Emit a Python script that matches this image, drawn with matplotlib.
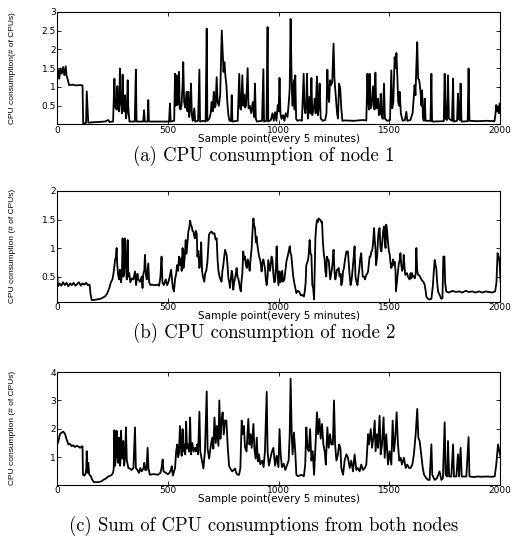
import numpy as np
import matplotlib
matplotlib.use("Agg")
import matplotlib.pyplot as plt
from matplotlib.ticker import FormatStrFormatter

# node 1 cpu usage, sample index / # of CPUs
x_node1 = [0, 4, 9, 14, 20, 26, 32, 38, 42, 48, 53, 70, 85, 100, 114, 117, 130, 133, 137, 140,
           160, 190, 215, 222, 230, 236, 252, 258, 262, 265, 268, 271, 275, 279, 283, 286, 288, 292,
           295, 299, 303, 306, 310, 314, 318, 321, 326, 350, 355, 358, 388, 392, 395, 408, 411, 414,
           505, 509, 512, 528, 532, 535, 539, 543, 546, 550, 553, 557, 561, 566, 569, 573, 578, 584,
           588, 592, 596, 600, 604, 608, 612, 619, 623, 636, 642, 645, 660, 670, 675, 678, 687, 693,
           697, 702, 707, 711, 715, 720, 724, 730, 736, 743, 747, 751, 755, 759, 764, 768, 773, 778,
           785, 788, 791, 815, 822, 826, 830, 836, 840, 845, 848, 853, 860, 864, 870, 876, 883, 889,
           893, 897, 902, 925, 931, 934, 945, 950, 953, 965, 972, 978, 984, 990, 996, 1000, 1004, 1008,
           1013, 1020, 1026, 1032, 1040, 1046, 1050, 1054, 1058, 1062, 1065, 1069, 1072, 1075, 1079,
           1085, 1095, 1105, 1113, 1117, 1121, 1125, 1128, 1132, 1136, 1140, 1144, 1148, 1152, 1156,
           1160, 1163, 1167, 1173, 1177, 1181, 1185, 1190, 1200, 1210, 1216, 1220, 1224, 1228, 1232,
           1237, 1242, 1248, 1252, 1256, 1260, 1264, 1268, 1273, 1278, 1283, 1288, 1300, 1340, 1380,
           1396, 1401, 1405, 1408, 1411, 1415, 1420, 1426, 1430, 1433, 1437, 1441, 1445, 1449, 1453,
           1458, 1461, 1465, 1470, 1476, 1480, 1490, 1503, 1509, 1513, 1518, 1524, 1528, 1532, 1536,
           1540, 1544, 1547, 1552, 1560, 1570, 1577, 1581, 1595, 1605, 1609, 1614, 1618, 1622, 1626,
           1630, 1634, 1637, 1641, 1645, 1648, 1652, 1656, 1660, 1664, 1686, 1690, 1693, 1746, 1750,
           1754, 1760, 1765, 1769, 1783, 1788, 1791, 1806, 1810, 1814, 1818, 1822, 1826, 1854, 1858,
           1862, 1900, 1940, 1975, 1980, 1983, 1987, 1991, 1995, 1998, 2003, 2010]
y_node1 = [1.20, 1.45, 1.22, 1.49, 1.35, 1.53, 1.31, 1.55, 1.30, 1.18, 1.05, 1.06, 1.04, 1.05, 1.04,
           0.02, 0.05, 0.88, 0.40, 0.05, 0.06, 0.07, 0.08, 0.10, 0.12, 0.07, 0.08, 1.22, 0.45, 0.52,
           0.40, 1.02, 0.43, 0.35, 1.49, 0.55, 0.60, 0.30, 1.33, 0.43, 0.35, 0.78, 0.16, 0.30, 1.18,
           0.43, 0.08, 0.08, 1.46, 0.08, 0.08, 0.38, 0.08, 0.08, 0.65, 0.08, 0.08, 0.56, 0.08, 0.10,
           1.35, 0.50, 1.31, 0.52, 0.60, 1.40, 0.43, 0.40, 0.50, 1.05, 1.66, 0.60, 0.45, 0.87, 0.35,
           0.87, 0.20, 0.43, 1.09, 0.25, 0.10, 0.43, 0.08, 0.10, 1.46, 0.08, 0.10, 0.08, 2.55, 0.10,
           0.16, 0.30, 0.60, 0.35, 0.87, 0.45, 0.50, 1.26, 0.60, 0.50, 0.80, 2.50, 1.93, 1.40, 1.66,
           1.31, 1.05, 0.60, 0.25, 0.10, 0.10, 0.78, 0.08, 0.10, 1.35, 0.43, 0.40, 1.31, 0.50, 0.80,
           0.45, 0.50, 1.50, 0.43, 0.50, 0.30, 0.60, 0.20, 1.09, 0.15, 0.08, 0.10, 1.47, 0.08, 0.10,
           2.59, 0.08, 0.12, 0.30, 0.10, 0.33, 0.10, 0.52, 0.35, 1.24, 0.30, 0.15, 0.25, 0.10, 0.30,
           0.20, 0.60, 0.96, 2.81, 1.40, 0.50, 0.78, 1.18, 0.40, 1.31, 0.15, 0.10, 0.12, 0.10, 1.35,
           0.43, 0.30, 0.60, 1.35, 0.16, 0.40, 0.74, 0.30, 1.24, 0.25, 0.40, 0.50, 0.69, 0.30, 1.28,
           0.25, 0.45, 1.09, 0.16, 0.10, 0.12, 0.30, 1.46, 0.78, 0.60, 1.18, 1.05, 1.13, 2.15, 1.22,
           0.90, 0.61, 0.30, 0.16, 1.09, 0.96, 0.43, 0.10, 0.11, 0.10, 0.12, 0.11, 1.35, 0.61, 0.40,
           1.35, 0.43, 0.50, 1.02, 0.61, 0.40, 1.38, 0.43, 0.45, 0.69, 0.25, 0.30, 0.82, 0.25, 0.15,
           1.09, 0.16, 0.10, 0.12, 1.44, 0.43, 0.60, 1.79, 1.50, 1.90, 1.31, 0.60, 0.50, 0.87, 0.30,
           0.10, 0.12, 0.34, 0.10, 0.12, 0.30, 0.60, 1.05, 0.78, 1.55, 2.19, 1.22, 1.20, 1.09, 0.87,
           0.50, 0.91, 0.16, 0.10, 0.69, 0.10, 0.10, 1.35, 0.08, 0.09, 1.35, 0.16, 0.12, 1.31, 0.16,
           0.10, 1.22, 0.08, 0.10, 0.82, 0.16, 0.12, 1.09, 0.08, 0.09, 1.49, 0.10, 0.09, 0.10, 0.09,
           0.30, 0.52, 0.35, 0.48, 0.30, 0.56, 0.52, 0.55]

# node 2 cpu usage
x_node2 = [0, 3, 10, 18, 26, 34, 42, 50, 58, 66, 74, 82, 90, 98, 106, 114, 122, 130, 138, 146, 150,
           155, 165, 180, 195, 205, 215, 225, 235, 243, 249, 253, 257, 261, 265, 268, 271, 275, 279,
           283, 288, 292, 295, 299, 302, 306, 310, 314, 318, 321, 325, 330, 337, 344, 351, 356, 362,
           366, 374, 381, 385, 389, 393, 396, 400, 404, 411, 415, 421, 428, 436, 444, 452, 460, 466,
           471, 475, 481, 490, 496, 502, 508, 514, 518, 522, 527, 532, 537, 541, 546, 550, 555, 559,
           562, 566, 570, 575, 580, 584, 588, 592, 596, 600, 604, 607, 611, 615, 619, 622, 626, 630,
           633, 637, 642, 646, 650, 654, 658, 664, 668, 673, 678, 682, 685, 690, 697, 703, 710, 715,
           720, 724, 728, 733, 737, 742, 746, 750, 754, 758, 762, 765, 769, 773, 777, 780, 784, 788,
           791, 795, 799, 803, 807, 810, 814, 818, 822, 825, 829, 833, 836, 840, 844, 848, 852, 856,
           860, 864, 869, 873, 878, 882, 886, 889, 893, 897, 900, 904, 908, 912, 916, 920, 923, 927,
           931, 938, 942, 946, 950, 953, 957, 961, 965, 968, 972, 976, 980, 984, 988, 991, 995, 999,
           1004, 1008, 1012, 1016, 1020, 1026, 1030, 1035, 1042, 1046, 1050, 1054, 1057, 1061, 1065,
           1070, 1075, 1080, 1086, 1091, 1095, 1100, 1106, 1114, 1118, 1122, 1125, 1129, 1133, 1136,
           1140, 1144, 1148, 1152, 1156, 1160, 1163, 1166, 1170, 1173, 1177, 1181, 1185, 1190, 1193,
           1196, 1200, 1204, 1208, 1211, 1215, 1218, 1222, 1226, 1230, 1233, 1237, 1240, 1244, 1248,
           1252, 1256, 1259, 1263, 1268, 1271, 1275, 1280, 1283, 1287, 1291, 1295, 1300, 1306, 1313,
           1317, 1320, 1325, 1330, 1334, 1338, 1343, 1347, 1352, 1356, 1360, 1364, 1368, 1373, 1377,
           1380, 1386, 1390, 1396, 1400, 1404, 1408, 1411, 1415, 1419, 1422, 1426, 1431, 1434, 1437,
           1440, 1445, 1449, 1452, 1456, 1460, 1464, 1468, 1472, 1476, 1480, 1483, 1486, 1490, 1494,
           1498, 1502, 1505, 1509, 1513, 1517, 1520, 1524, 1528, 1530, 1534, 1538, 1542, 1547, 1550,
           1554, 1558, 1562, 1565, 1569, 1572, 1577, 1580, 1584, 1588, 1592, 1596, 1599, 1603, 1606,
           1611, 1615, 1619, 1622, 1626, 1630, 1636, 1642, 1648, 1654, 1660, 1664, 1667, 1674, 1682,
           1690, 1697, 1701, 1705, 1709, 1712, 1716, 1720, 1727, 1735, 1740, 1744, 1749, 1752, 1757,
           1770, 1785, 1800, 1815, 1830, 1845, 1860, 1875, 1890, 1905, 1920, 1935, 1950, 1965, 1978,
           1984, 1989, 1994, 1998, 2003, 2009, 2014]
y_node2 = [0.50, 0.33, 0.38, 0.34, 0.40, 0.35, 0.39, 0.33, 0.38, 0.35, 0.39, 0.34, 0.37, 0.40, 0.34,
           0.38, 0.36, 0.39, 0.35, 0.36, 0.20, 0.09, 0.09, 0.10, 0.11, 0.13, 0.15, 0.20, 0.30, 0.41,
           0.45, 0.53, 0.65, 0.79, 0.85, 1.00, 0.70, 0.53, 0.45, 0.62, 0.40, 0.55, 1.17, 0.50, 0.60,
           1.17, 0.70, 0.45, 1.14, 0.50, 0.56, 0.40, 0.47, 0.45, 0.59, 0.35, 0.55, 0.45, 0.41, 0.50,
           0.30, 0.56, 0.60, 0.88, 0.55, 0.45, 0.73, 0.40, 0.35, 0.36, 0.35, 0.35, 0.36, 0.34, 0.50,
           0.85, 0.40, 0.35, 0.45, 0.35, 0.40, 0.50, 0.62, 0.45, 0.30, 0.24, 0.45, 0.55, 0.70, 0.60,
           0.85, 0.70, 0.82, 0.60, 1.00, 0.65, 0.80, 1.14, 0.90, 1.10, 1.29, 1.35, 1.48, 1.40, 1.38,
           1.30, 1.29, 1.20, 1.17, 1.30, 1.25, 0.85, 0.95, 0.65, 0.75, 1.10, 0.60, 0.50, 0.41, 0.55,
           0.60, 0.75, 1.00, 1.23, 1.27, 1.29, 1.25, 1.26, 1.15, 1.17, 0.80, 0.60, 0.50, 0.45, 0.41,
           0.60, 0.70, 0.85, 0.97, 0.92, 0.88, 0.70, 0.47, 0.40, 0.30, 0.45, 0.60, 0.55, 0.27, 0.40,
           0.47, 0.55, 0.65, 0.50, 0.46, 0.38, 0.30, 0.24, 0.45, 0.55, 0.94, 0.80, 0.85, 0.70, 0.65,
           0.80, 0.75, 0.60, 0.80, 1.00, 1.30, 1.52, 1.40, 1.35, 1.10, 1.20, 1.05, 0.94, 0.85, 0.80,
           0.70, 0.59, 0.75, 0.80, 0.65, 0.45, 0.35, 0.50, 0.79, 0.70, 0.60, 0.75, 0.85, 0.79, 0.55,
           0.40, 0.41, 0.70, 1.03, 0.60, 0.35, 0.59, 0.40, 0.47, 0.60, 0.41, 0.45, 0.59, 0.76, 0.88,
           0.95, 1.03, 0.90, 0.88, 0.70, 0.53, 0.40, 0.30, 0.21, 0.25, 0.24, 0.22, 0.17, 0.18, 0.15,
           0.24, 0.40, 0.70, 0.75, 0.79, 0.90, 1.14, 0.90, 0.88, 0.35, 0.30, 0.10, 0.60, 1.17, 1.40,
           1.49, 1.45, 1.52, 1.50, 1.49, 1.45, 1.46, 1.10, 0.90, 0.79, 0.60, 0.50, 0.85, 0.80, 0.79,
           0.60, 0.45, 0.55, 0.62, 0.75, 0.97, 0.60, 0.45, 0.50, 0.62, 0.62, 0.65, 0.50, 0.55, 0.35,
           0.40, 0.59, 0.65, 0.80, 0.94, 0.94, 0.70, 0.55, 0.35, 0.45, 0.62, 0.80, 1.03, 0.50, 0.40,
           0.35, 0.50, 0.62, 0.80, 0.91, 0.65, 0.50, 0.50, 0.45, 0.53, 0.55, 0.59, 0.75, 0.85, 0.85,
           0.94, 0.95, 1.06, 1.35, 1.15, 1.00, 0.70, 0.85, 1.17, 1.30, 1.35, 1.00, 0.94, 1.10, 1.29,
           1.38, 1.10, 1.00, 1.41, 1.30, 1.10, 0.95, 0.88, 0.75, 0.65, 0.70, 0.80, 0.70, 0.76, 0.60,
           0.24, 0.40, 0.55, 0.70, 0.80, 0.91, 0.70, 0.60, 0.65, 0.88, 0.65, 0.53, 0.55, 0.56, 0.50,
           0.47, 0.45, 0.56, 0.47, 0.56, 0.50, 0.50, 0.47, 0.55, 1.00, 0.60, 0.53, 0.52, 0.47, 0.43,
           0.41, 0.35, 0.25, 0.15, 0.11, 0.10, 0.11, 0.35, 0.60, 0.79, 0.70, 0.65, 0.40, 0.24, 0.18,
           0.11, 0.12, 0.85, 0.85, 0.40, 0.24, 0.22, 0.25, 0.23, 0.24, 0.22, 0.25, 0.23, 0.24, 0.22,
           0.24, 0.22, 0.24, 0.23, 0.22, 0.24, 0.40, 0.91, 0.85, 0.75, 0.40, 0.21, 0.18]

# sum of both nodes
x_total = [0, 5, 12, 20, 27, 35, 42, 50, 57, 65, 72, 80, 88, 95, 103, 110, 114, 116, 122, 127, 131,
           133, 136, 140, 144, 152, 158, 166, 185, 200, 208, 220, 230, 240, 246, 252, 255, 258, 261,
           265, 268, 271, 275, 279, 283, 285, 288, 292, 296, 298, 302, 306, 310, 314, 321, 328, 336,
           344, 351, 355, 362, 369, 375, 381, 389, 393, 397, 403, 408, 412, 418, 430, 441, 455, 466,
           471, 476, 480, 490, 500, 507, 513, 517, 522, 532, 537, 542, 546, 550, 554, 559, 562, 566,
           570, 575, 578, 582, 586, 592, 596, 600, 604, 610, 616, 622, 627, 632, 636, 642, 646, 652,
           660, 667, 675, 679, 686, 694, 700, 705, 710, 716, 721, 728, 732, 737, 742, 747, 752, 758,
           764, 770, 776, 783, 790, 797, 803, 808, 815, 821, 827, 833, 838, 843, 848, 855, 863, 868,
           873, 878, 886, 890, 896, 901, 906, 911, 917, 926, 932, 938, 946, 950, 956, 961, 968, 976,
           984, 991, 999, 1004, 1009, 1015, 1023, 1030, 1038, 1045, 1050, 1054, 1059, 1063, 1069,
           1075, 1080, 1087, 1102, 1114, 1120, 1125, 1130, 1136, 1142, 1148, 1154, 1160, 1166, 1173,
           1178, 1184, 1190, 1196, 1202, 1208, 1213, 1220, 1226, 1232, 1238, 1245, 1250, 1255, 1261,
           1268, 1273, 1279, 1283, 1291, 1298, 1306, 1313, 1321, 1328, 1336, 1343, 1351, 1358, 1366,
           1373, 1381, 1389, 1396, 1404, 1408, 1416, 1422, 1428, 1434, 1438, 1444, 1449, 1456, 1461,
           1467, 1474, 1479, 1486, 1494, 1501, 1509, 1515, 1521, 1527, 1533, 1539, 1545, 1551, 1557,
           1566, 1574, 1581, 1589, 1596, 1604, 1611, 1619, 1626, 1631, 1637, 1644, 1651, 1657, 1667,
           1675, 1682, 1690, 1694, 1705, 1715, 1727, 1735, 1742, 1750, 1754, 1761, 1765, 1770, 1780,
           1788, 1792, 1803, 1810, 1815, 1822, 1827, 1848, 1858, 1862, 1880, 1900, 1920, 1940, 1960,
           1976, 1983, 1991, 1997, 2003, 2010]
y_total = [1.45, 1.57, 1.81, 1.87, 1.90, 1.82, 1.63, 1.45, 1.47, 1.39, 1.42, 1.36, 1.40, 1.38, 1.33,
           1.38, 1.38, 0.38, 0.35, 0.40, 0.60, 1.21, 0.45, 0.80, 0.40, 0.32, 0.20, 0.12, 0.12, 0.15,
           0.20, 0.25, 0.32, 0.35, 0.38, 0.45, 0.60, 1.95, 0.70, 1.00, 1.93, 1.20, 0.80, 1.69, 0.70,
           0.80, 1.93, 0.95, 1.20, 1.57, 0.70, 1.00, 2.05, 0.90, 0.62, 0.60, 0.55, 0.62, 2.05, 0.62,
           0.55, 0.45, 0.62, 0.50, 0.60, 0.80, 0.55, 0.55, 1.33, 0.60, 0.38, 0.40, 0.40, 0.38, 0.45,
           0.62, 0.92, 0.50, 0.45, 0.40, 0.45, 0.55, 0.68, 0.35, 0.62, 1.21, 1.45, 1.00, 1.15, 2.10,
           1.30, 1.05, 1.99, 1.20, 1.45, 1.10, 2.25, 1.30, 1.45, 1.20, 2.40, 1.10, 1.50, 1.20, 1.33,
           1.20, 1.45, 1.10, 2.60, 1.20, 0.95, 0.60, 1.20, 3.32, 1.30, 0.95, 1.43, 1.69, 1.30, 2.40,
           1.50, 2.10, 1.40, 3.00, 1.65, 2.30, 2.58, 1.80, 2.30, 2.29, 1.35, 0.70, 0.58, 0.50, 0.55,
           0.60, 0.45, 0.38, 0.38, 0.60, 2.29, 1.81, 2.10, 1.35, 1.20, 2.35, 1.45, 1.81, 1.33, 2.17,
           1.33, 0.95, 1.69, 0.85, 1.10, 0.75, 0.88, 0.65, 1.20, 3.30, 1.20, 0.70, 0.88, 1.15, 1.33,
           0.70, 1.05, 0.65, 1.99, 1.10, 0.65, 0.77, 0.55, 0.72, 0.88, 1.81, 3.77, 1.81, 1.10, 1.87,
           1.20, 0.38, 0.33, 0.38, 0.33, 0.74, 2.05, 1.33, 1.21, 1.99, 0.88, 1.21, 0.38, 1.33, 2.58,
           1.81, 2.35, 1.65, 2.17, 1.45, 1.21, 0.74, 2.05, 1.33, 1.81, 1.45, 1.45, 3.00, 1.45, 0.88,
           1.10, 1.45, 1.33, 0.62, 0.38, 0.88, 1.10, 0.98, 0.62, 0.88, 0.50, 1.10, 0.55, 0.62, 0.50,
           0.74, 0.55, 0.62, 0.74, 1.81, 1.45, 1.99, 1.33, 1.69, 2.29, 1.21, 1.81, 1.33, 2.46, 1.10,
           1.45, 2.40, 0.98, 1.81, 0.74, 1.21, 0.74, 2.29, 1.21, 1.69, 2.58, 1.45, 0.88, 0.98, 0.74,
           0.98, 0.62, 0.74, 0.62, 0.62, 0.74, 1.10, 1.81, 2.70, 1.69, 1.57, 1.10, 0.62, 0.38, 0.26,
           0.20, 0.20, 1.45, 0.38, 0.20, 0.26, 0.50, 0.20, 0.26, 2.23, 0.38, 0.32, 1.57, 0.32, 0.32,
           1.45, 0.32, 0.32, 1.10, 0.32, 1.33, 0.32, 0.32, 1.71, 0.32, 0.30, 0.32, 0.31, 0.32, 0.31,
           0.32, 0.74, 1.45, 1.21, 0.98, 0.90]

xticks = [0, 500, 1000, 1500, 2000]

panels = [
    # x, y, axes rect, ylim, yticks, ylabel, caption, caption y (px from top)
    (x_node1, y_node1, [0.1083, 0.7696, 0.8369, 0.2087], (0.01, 3), [0.5, 1, 1.5, 2, 2.5, 3],
     'CPU consumption(# of CPUs)', '(a) CPU consumption of node 1', 156),
    (x_node2, y_node2, [0.1083, 0.4403, 0.8369, 0.2054], (0.06, 2), [0.5, 1, 1.5, 2],
     'CPU consumption (# of CPUs)', '(b) CPU consumption of node 2', 333),
    (x_total, y_total, [0.1083, 0.1007, 0.8369, 0.2090], (0.03, 4), [1, 2, 3, 4],
     'CPU consumption (# of CPUs)', '(c) Sum of CPU consumptions from both nodes', 526),
]

W, H = 529, 539
fig = plt.figure(figsize=(W / 100, H / 100), dpi=100)

for xs, ys, rect, ylim, yt, ylab, cap, cap_y in panels:
    ax = fig.add_axes(rect)
    ax.plot(xs, ys, color='black', linewidth=1.3)
    ax.set_xlim(0, 2000)
    ax.set_ylim(*ylim)
    ax.set_xticks(xticks)
    ax.set_yticks(yt)
    ax.yaxis.set_major_formatter(FormatStrFormatter('%g'))
    ax.tick_params(direction='in', length=3, width=0.6, top=True, right=True,
                   labelsize=6.5, pad=1)
    for s in ax.spines.values():
        s.set_linewidth(0.8)
    # x label sits 14 px under the bottom spine
    ax_h = rect[3] * H
    ax.set_xlabel('Sample point(every 5 minutes)', fontsize=7.5)
    ax.xaxis.label.set_va('center')
    ax.xaxis.set_label_coords(0.5, -14.5 / ax_h)
    ax.set_ylabel(ylab, fontsize=6, family='Liberation Sans')
    ax.yaxis.label.set_va('center')
    ax.yaxis.set_label_coords(-0.102, 0.5)
    fig.text(264 / W, 1 - cap_y / H, cap, ha='center', va='center',
             family='cmr10', fontsize=13.5)

fig.savefig('out.png', dpi=100)
